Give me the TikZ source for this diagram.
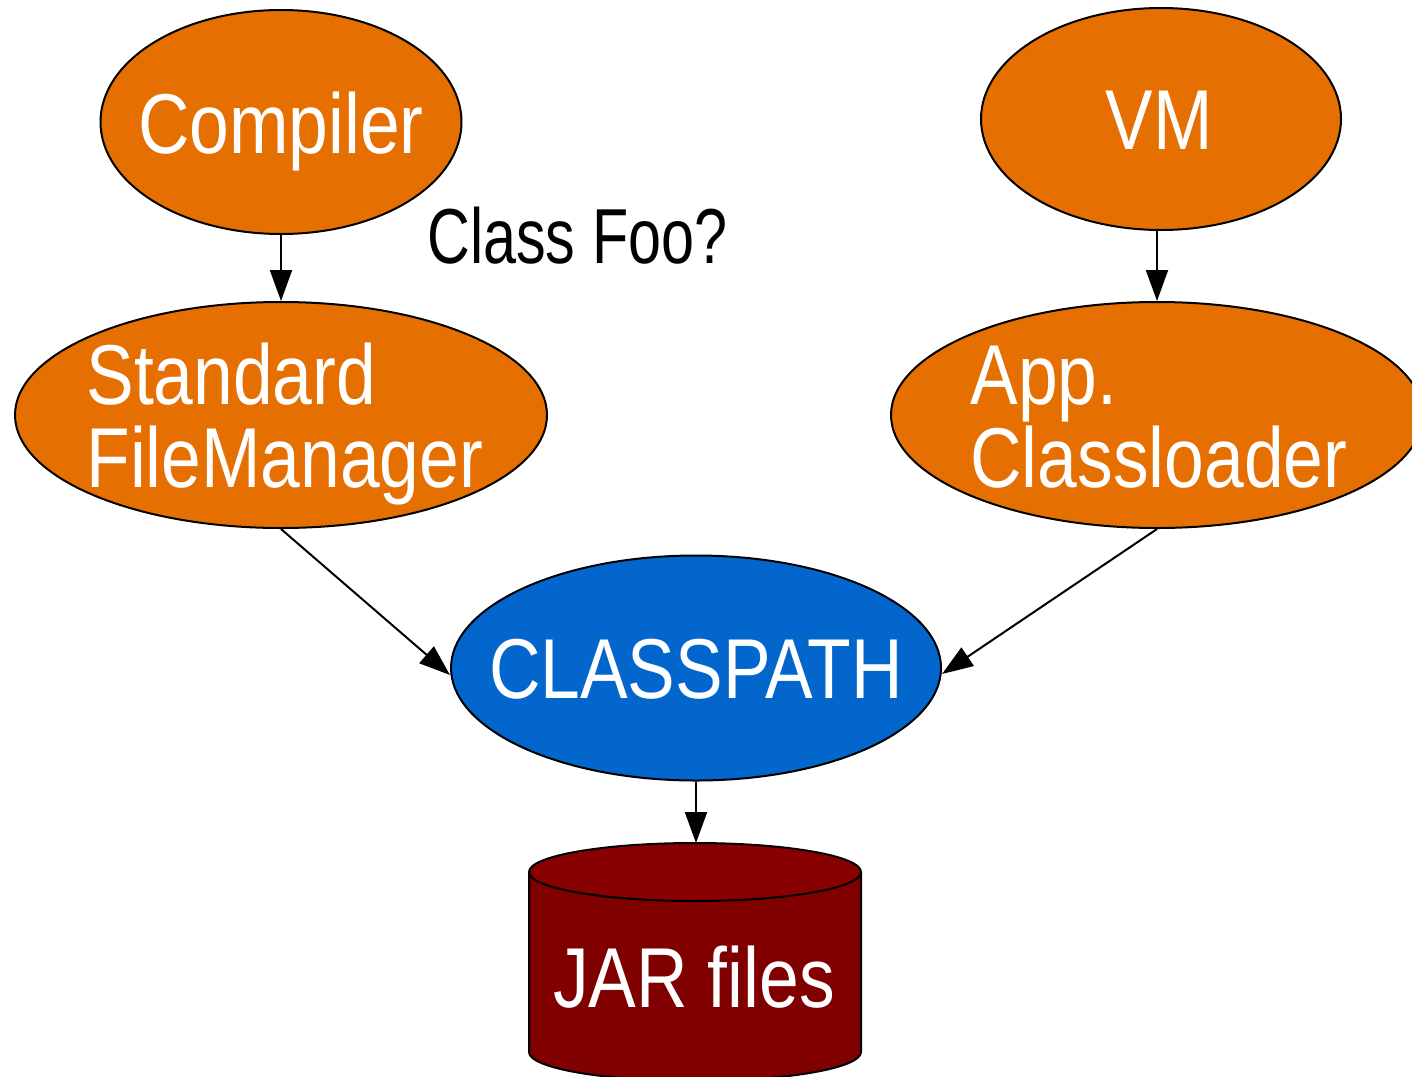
\documentclass[tikz,border=0pt]{standalone}
\usepackage{fontspec}
\setmainfont{Liberation Sans}[FakeStretch=0.84]
\newfontfamily\notefont{Liberation Sans}[FakeStretch=0.76]
\usetikzlibrary{shapes.geometric,arrows.meta}
\definecolor{procorange}{RGB}{229,111,0}
\definecolor{pathblue}{RGB}{3,102,204}
\definecolor{jarcap}{RGB}{136,0,0}
\definecolor{jarbody}{RGB}{128,0,0}
\begin{document}
\begin{tikzpicture}[x=0.5pt,y=-0.5pt,
  proc/.style={ellipse, draw=black, line width=1pt, fill=procorange, inner sep=0pt},
  store/.style={ellipse, draw=black, line width=1pt, fill=pathblue, inner sep=0pt},
  big/.style={text=white, font=\fontsize{42.5pt}{41.5pt}\selectfont, inner sep=0pt},
  note/.style={text=black, font=\notefont\fontsize{39pt}{40pt}\selectfont, inner sep=0pt},
  flow/.style={draw=black, line width=1pt, -{Triangle[length=15.5pt,width=11pt]}}]
\clip (0,0) rectangle (1412,1076);
\fill[white] (0,0) rectangle (1412,1076);

% tools that ask for classes
\node[proc, minimum width=180.5pt, minimum height=112pt] (compiler) at (281,122) {};
\node[proc, minimum width=180pt, minimum height=111pt] (vm) at (1161,119) {};
\node[proc, minimum width=266pt, minimum height=113pt] (fm) at (281,415) {};
\node[proc, minimum width=266pt, minimum height=113pt] (app) at (1157,415) {};
\node[store, minimum width=245pt, minimum height=112.5pt] (cp) at (696,668) {};

% the jar store drawn as a cylinder
\fill[jarbody] (529,872) -- (529,1052)
  arc[start angle=180, end angle=0, x radius=166, y radius=29] -- (861,872) -- cycle;
\draw[line width=1pt] (529,872) -- (529,1052)
  arc[start angle=180, end angle=0, x radius=166, y radius=29] -- (861,872);
\filldraw[fill=jarcap, draw=black, line width=1pt] (695,872) ellipse[x radius=166, y radius=29];
\coordinate (jartop) at (696,843);

% labels (a two-line label sits on the baseline of its last line)
\node[big, anchor=base] (compilertext) at (281,153) {Compiler};
\node[big, anchor=base] (vmtext) at (1159,149) {VM};
\node[big, anchor=base west, align=left] (fmtext) at (86,487) {Standard\\FileManager};
\node[big, anchor=base west, align=left] (apptext) at (970,487) {App.\\Classloader};
\node[big, anchor=base] (cptext) at (696,698) {CLASSPATH};
\node[big, anchor=base] (jartext) at (694,1007) {JAR files};
\node[note, anchor=base west] (query) at (427,263) {Class Foo?};

% connectors
\draw[flow] (compiler.south) -- (fm.north);
\draw[flow] (app.north |- vm.south) -- (app.north);
\draw[flow] (fm.south) -- ([yshift=-3.5pt]cp.west);
\draw[flow] (app.south) -- ([yshift=-3pt]cp.east);
\draw[flow] (cp.south) -- (jartop);
\end{tikzpicture}
\end{document}
